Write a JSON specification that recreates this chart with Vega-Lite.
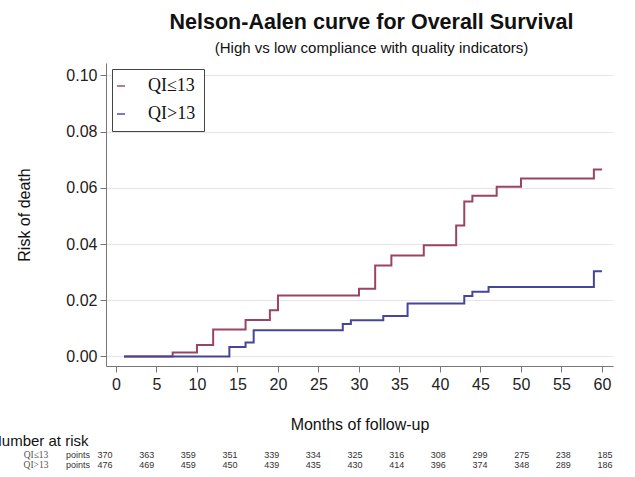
{
  "$schema": "https://vega.github.io/schema/vega-lite/v6.json",
  "width": 507,
  "height": 303,
  "autosize": {"type": "none"},
  "padding": {"left": 106, "top": 63, "right": 22, "bottom": 111},
  "background": "white",
  "config": {"view": {"stroke": null}, "font": "Liberation Sans"},
  "title": {
    "text": "Nelson-Aalen curve for Overall Survival",
    "subtitle": "(High vs low compliance with quality indicators)",
    "anchor": "middle",
    "frame": "group",
    "dx": 12,
    "font": "Liberation Sans",
    "fontSize": 21.5,
    "fontWeight": "bold",
    "color": "#111",
    "subtitleFont": "Liberation Sans",
    "subtitleFontSize": 15,
    "subtitleColor": "#111",
    "subtitlePadding": 8,
    "offset": 7
  },
  "datasets": {
    "curves": [
      {"group": "QI≤13", "month": 1, "risk": 0},
      {"group": "QI≤13", "month": 7, "risk": 0.0014},
      {"group": "QI≤13", "month": 10, "risk": 0.0041},
      {"group": "QI≤13", "month": 12, "risk": 0.0096},
      {"group": "QI≤13", "month": 16, "risk": 0.0130},
      {"group": "QI≤13", "month": 19, "risk": 0.0164},
      {"group": "QI≤13", "month": 20, "risk": 0.0217},
      {"group": "QI≤13", "month": 30, "risk": 0.0241},
      {"group": "QI≤13", "month": 32, "risk": 0.0324},
      {"group": "QI≤13", "month": 34, "risk": 0.0359},
      {"group": "QI≤13", "month": 38, "risk": 0.0396},
      {"group": "QI≤13", "month": 42, "risk": 0.0466},
      {"group": "QI≤13", "month": 43, "risk": 0.0551},
      {"group": "QI≤13", "month": 44, "risk": 0.0572},
      {"group": "QI≤13", "month": 47, "risk": 0.0604},
      {"group": "QI≤13", "month": 50, "risk": 0.0633},
      {"group": "QI≤13", "month": 59, "risk": 0.0665},
      {"group": "QI≤13", "month": 60, "risk": 0.0665},
      {"group": "QI>13", "month": 1, "risk": 0},
      {"group": "QI>13", "month": 14, "risk": 0.0034},
      {"group": "QI>13", "month": 16, "risk": 0.0050},
      {"group": "QI>13", "month": 17, "risk": 0.0093},
      {"group": "QI>13", "month": 28, "risk": 0.0115},
      {"group": "QI>13", "month": 29, "risk": 0.0129},
      {"group": "QI>13", "month": 33, "risk": 0.0144},
      {"group": "QI>13", "month": 36, "risk": 0.0188},
      {"group": "QI>13", "month": 43, "risk": 0.0215},
      {"group": "QI>13", "month": 44, "risk": 0.0230},
      {"group": "QI>13", "month": 46, "risk": 0.0247},
      {"group": "QI>13", "month": 59, "risk": 0.0303},
      {"group": "QI>13", "month": 60, "risk": 0.0303}
    ],
    "risk": [
      {"group": "QI≤13", "month": 0, "n": 370},
      {"group": "QI≤13", "month": 5, "n": 363},
      {"group": "QI≤13", "month": 10, "n": 359},
      {"group": "QI≤13", "month": 15, "n": 351},
      {"group": "QI≤13", "month": 20, "n": 339},
      {"group": "QI≤13", "month": 25, "n": 334},
      {"group": "QI≤13", "month": 30, "n": 325},
      {"group": "QI≤13", "month": 35, "n": 316},
      {"group": "QI≤13", "month": 40, "n": 308},
      {"group": "QI≤13", "month": 45, "n": 299},
      {"group": "QI≤13", "month": 50, "n": 275},
      {"group": "QI≤13", "month": 55, "n": 238},
      {"group": "QI≤13", "month": 60, "n": 185},
      {"group": "QI>13", "month": 0, "n": 476},
      {"group": "QI>13", "month": 5, "n": 469},
      {"group": "QI>13", "month": 10, "n": 459},
      {"group": "QI>13", "month": 15, "n": 450},
      {"group": "QI>13", "month": 20, "n": 439},
      {"group": "QI>13", "month": 25, "n": 435},
      {"group": "QI>13", "month": 30, "n": 430},
      {"group": "QI>13", "month": 35, "n": 414},
      {"group": "QI>13", "month": 40, "n": 396},
      {"group": "QI>13", "month": 45, "n": 374},
      {"group": "QI>13", "month": 50, "n": 348},
      {"group": "QI>13", "month": 55, "n": 289},
      {"group": "QI>13", "month": 60, "n": 186}
    ],
    "header": [{"group": "Number at risk"}]
  },
  "layer": [
    {
      "data": {"name": "curves"},
      "mark": {"type": "line", "interpolate": "step-after", "strokeWidth": 2},
      "encoding": {
        "x": {
          "field": "month", "type": "quantitative",
          "scale": {"domain": [-1.23, 61.36], "nice": false, "zero": false},
          "axis": {
            "values": [0, 5, 10, 15, 20, 25, 30, 35, 40, 45, 50, 55, 60],
            "title": "Months of follow-up", "grid": false,
            "domainColor": "#777", "tickColor": "#777", "tickSize": 6,
            "labelFontSize": 16, "labelColor": "#222", "labelPadding": 4,
            "titleFontSize": 16, "titleFontWeight": "normal", "titleColor": "#111", "titlePadding": 24
          }
        },
        "y": {
          "field": "risk", "type": "quantitative",
          "scale": {"domain": [-0.0034, 0.1044], "nice": false, "zero": false},
          "axis": {
            "values": [0, 0.02, 0.04, 0.06, 0.08, 0.1], "format": ".2f",
            "title": "Risk of death", "grid": true, "gridColor": "#e6e6e6",
            "domainColor": "#777", "tickColor": "#777", "tickSize": 6,
            "labelFontSize": 16, "labelColor": "#222", "labelPadding": 3,
            "titleFontSize": 16, "titleFontWeight": "normal", "titleColor": "#111", "titlePadding": 33
          }
        },
        "color": {
          "field": "group", "type": "nominal",
          "scale": {"domain": ["QI≤13", "QI>13"], "range": ["#9a4463", "#46459a"]},
          "legend": {
            "title": null, "orient": "top-left", "offset": 6,
            "strokeColor": "#444", "fillColor": "white", "padding": 8,
            "symbolType": "stroke", "symbolSize": 64, "symbolStrokeWidth": 2, "symbolOpacity": 0.7,
            "symbolOffset": -8,
            "labelFont": "Liberation Serif", "labelFontSize": 18, "labelColor": "#111",
            "labelOffset": 18, "rowPadding": 10
          }
        }
      }
    },
    {
      "layer": [
        {
          "data": {"name": "risk"},
          "mark": {"type": "text", "fontSize": 9, "font": "Liberation Sans", "color": "#333", "baseline": "middle"},
          "encoding": {
            "x": {"field": "month", "type": "quantitative", "scale": {"domain": [0, 60], "range": [-1, 499]}, "axis": null},
            "y": {"field": "group", "type": "nominal", "scale": {"type": "point", "domain": ["Number at risk", "QI≤13", "QI>13"], "range": [382, 402], "padding": 0}, "axis": null},
            "text": {"field": "n", "type": "quantitative"}
          }
        },
        {
          "data": {"name": "risk"},
          "transform": [{"filter": "datum.month == 0"}],
          "mark": {"type": "text", "fontSize": 9.5, "font": "Liberation Serif", "color": "#555", "baseline": "middle", "dx": -69},
          "encoding": {
            "x": {"datum": 0, "type": "quantitative"},
            "y": {"field": "group", "type": "nominal"},
            "text": {"field": "group", "type": "nominal"}
          }
        },
        {
          "data": {"name": "risk"},
          "transform": [{"filter": "datum.month == 0"}],
          "mark": {"type": "text", "fontSize": 9, "font": "Liberation Sans", "color": "#333", "baseline": "middle", "dx": -27, "text": "points"},
          "encoding": {
            "x": {"datum": 0, "type": "quantitative"},
            "y": {"field": "group", "type": "nominal"}
          }
        },
        {
          "data": {"name": "header"},
          "mark": {"type": "text", "fontSize": 15, "font": "Liberation Sans", "color": "#111", "baseline": "middle", "align": "left", "dx": -114, "dy": -4},
          "encoding": {
            "x": {"datum": 0, "type": "quantitative"},
            "y": {"field": "group", "type": "nominal"},
            "text": {"field": "group", "type": "nominal"}
          }
        }
      ]
    }
  ],
  "resolve": {"scale": {"x": "independent", "y": "independent"}}
}
